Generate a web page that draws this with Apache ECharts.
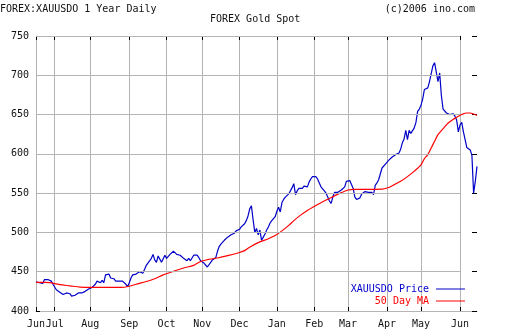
<!DOCTYPE html>
<html>
<head>
<meta charset="utf-8">
<script src="https://cdn.jsdelivr.net/npm/echarts@6/dist/echarts.min.js"></script>
<style>
html,body{margin:0;padding:0;background:#fff;}
#c{width:512px;height:335px;}
</style>
</head>
<body>
<div id="c"></div>
<script>
// Trading-day index positions of month starts and their labels
var monthIdx = [0, 11, 32, 55, 77, 98, 120, 142, 164, 184, 207, 227, 250];
var monthLbl = ['Jun','Jul','Aug','Sep','Oct','Nov','Dec','Jan','Feb','Mar','Apr','May','Jun'];
// Y tick values
var yTicks = [400, 450, 500, 550, 600, 650, 700, 750];
// Daily XAUUSDO price (one value per trading day)
var priceVals = [
437,437,436,438,435,440,441,440,438,438,434,436,427,426,424,422,421,422,423,423,
422,419,419,420,420,423,423,423,423,425,426,428,429,430,432,434,438,437,436,439,
436,446,446,447,442,444,441,438,439,438,439,438,439,434,431,436,442,446,447,447,
448,450,449,448,450,458,461,463,467,472,465,462,470,466,462,464,471,467,467,472,
473,476,474,472,474,471,469,467,467,464,467,464,464,471,473,471,468,464,464,461,
459,456,457,462,465,467,468,476,482,485,486,490,492,494,495,497,498,499,502,503,
504,507,509,511,515,521,530,534,516,500,505,497,503,490,494,498,503,507,512,515,
517,520,527,532,526,538,542,545,547,549,551,557,562,548,553,556,557,556,559,561,
558,564,568,571,570,571,568,567,558,557,553,550,545,540,537,545,551,552,551,552,
554,555,558,565,567,566,564,556,545,542,541,544,549,551,552,553,551,553,551,548,
560,563,567,569,582,584,587,588,592,593,596,598,599,598,601,606,614,619,630,618,
630,626,626,633,640,654,657,662,670,682,684,684,692,702,712,716,716,692,703,674,
657,655,652,650,650,652,651,648,643,628,637,640,628,618,608,607,605,598,550,565,
584
];
// 50 day moving average, read at selected trading-day indices
var maIdx = [0,5,8,14,20,26,32,40,50,55,59,65,70,75,81,87,93,97,101,107,113,119,123,
  125,131,137,141,145,149,152,156,160,164,169,175,180,184,188,198,204,207,211,215,219,
  223,227,229,231,233,235,237,240,243,246,248,251,254,256,258,260];
var maVal = [436.5,436.5,436,433.5,432,430.5,430,430,430,431.5,434,437.5,441,446,450.5,
  454.7,458.1,463,465.3,467.5,470.4,473.8,476.8,480,487,492,496,502,509,515,522,528,533,
  539,545.5,550.6,554,554.8,554.8,555,556.5,560.5,565,571,578,586,594,599,607.5,616,624.4,
  632,639.3,644,646.5,650,652,652,650.7,649];

var FONT = 'DejaVu Sans Mono';
var xCats = priceVals.map(function(_, i){ return String(i); });
var isMonth = function(i){ return monthIdx.indexOf(i) >= 0; };
var maData = maIdx.map(function(ix, k){ return [ix, maVal[k]]; });
var lastMonth = monthIdx[monthIdx.length - 1];
var gridLines = yTicks.slice(1).map(function(v){ return [{coord:[0, v]}, {coord:[lastMonth, v]}]; });

var chart = echarts.init(document.getElementById('c'), null, {renderer:'canvas'});
chart.setOption({
  animation: false,
  backgroundColor: '#fff',
  title: [
    {text:'FOREX:XAUUSDO 1 Year Daily', left:0, top:4, padding:0,
     textStyle:{fontFamily:FONT, fontSize:10, fontWeight:'normal', color:'#111'}},
    {text:'FOREX Gold Spot', left:210, top:14, padding:0,
     textStyle:{fontFamily:FONT, fontSize:10, fontWeight:'normal', color:'#111'}},
    {text:'(c)2006 ino.com', right:37, top:4, padding:0,
     textStyle:{fontFamily:FONT, fontSize:10, fontWeight:'normal', color:'#111'}}
  ],
  legend: [
    {data:['XAUUSDO Price'], right:47, top:284, orient:'vertical', align:'right', padding:0,
     itemWidth:29, itemHeight:1, icon:'rect', selectedMode:false,
     textStyle:{fontFamily:FONT, fontSize:10, color:'#0000cc', padding:[0,2,0,0]}},
    {data:['50 Day MA'], right:47, top:296, orient:'vertical', align:'right', padding:0,
     itemWidth:29, itemHeight:1, icon:'rect', selectedMode:false,
     textStyle:{fontFamily:FONT, fontSize:10, color:'#ff0000', padding:[0,2,0,0]}}
  ],
  grid: {left:36, right:35, top:36, bottom:24, containLabel:false},
  xAxis: [
    {type:'category', data:xCats, boundaryGap:false, position:'bottom',
     axisLine:{show:true, lineStyle:{color:'#b4b4b4', width:1}},
     axisTick:{show:true, inside:true, length:4, interval:function(i){return isMonth(i);}, lineStyle:{color:'#000'}},
     axisLabel:{show:true, interval:function(i){return isMonth(i);}, margin:8,
       formatter:function(v, i){ var k = monthIdx.indexOf(Number(v)); return k >= 0 ? monthLbl[k] : ''; },
       fontFamily:FONT, fontSize:10, color:'#111'},
     splitLine:{show:true, interval:function(i){return isMonth(i);}, lineStyle:{color:'#b4b4b4', width:1}}},
    {type:'category', data:xCats, boundaryGap:false, position:'top',
     axisLine:{show:false},
     axisTick:{show:true, inside:true, length:4, interval:function(i){return isMonth(i);}, lineStyle:{color:'#000'}},
     axisLabel:{show:false}, splitLine:{show:false}}
  ],
  yAxis: [
    {type:'value', min:400, max:750, interval:50, position:'left',
     axisLine:{show:true, lineStyle:{color:'#b4b4b4', width:1}},
     axisTick:{show:true, inside:true, length:4, lineStyle:{color:'#000'}},
     axisLabel:{show:true, margin:7, fontFamily:FONT, fontSize:10, color:'#111'},
     splitLine:{show:false}},
    {type:'value', min:400, max:750, interval:50, position:'right',
     axisLine:{show:false},
     axisTick:{show:true, inside:true, length:5, lineStyle:{color:'#000'}},
     axisLabel:{show:false}, splitLine:{show:false}}
  ],
  series: [
    {name:'gridH', type:'line', data:[], z:1, silent:true,
     markLine:{silent:true, symbol:['none','none'], label:{show:false}, animation:false,
       emphasis:{disabled:true},
       lineStyle:{color:'#b4b4b4', width:1, type:'solid'}, data:gridLines}},
    {name:'XAUUSDO Price', type:'line', data:priceVals, z:3, showSymbol:false, symbol:'none',
     lineStyle:{color:'#0000c8', width:1.2}, itemStyle:{color:'#0000c8'}, emphasis:{disabled:true}},
    {name:'50 Day MA', type:'line', data:maData, z:4, showSymbol:false, symbol:'none', smooth:0.3,
     lineStyle:{color:'#ff0000', width:1.2}, itemStyle:{color:'#ff0000'}, emphasis:{disabled:true}}
  ]
});
</script>
</body>
</html>
